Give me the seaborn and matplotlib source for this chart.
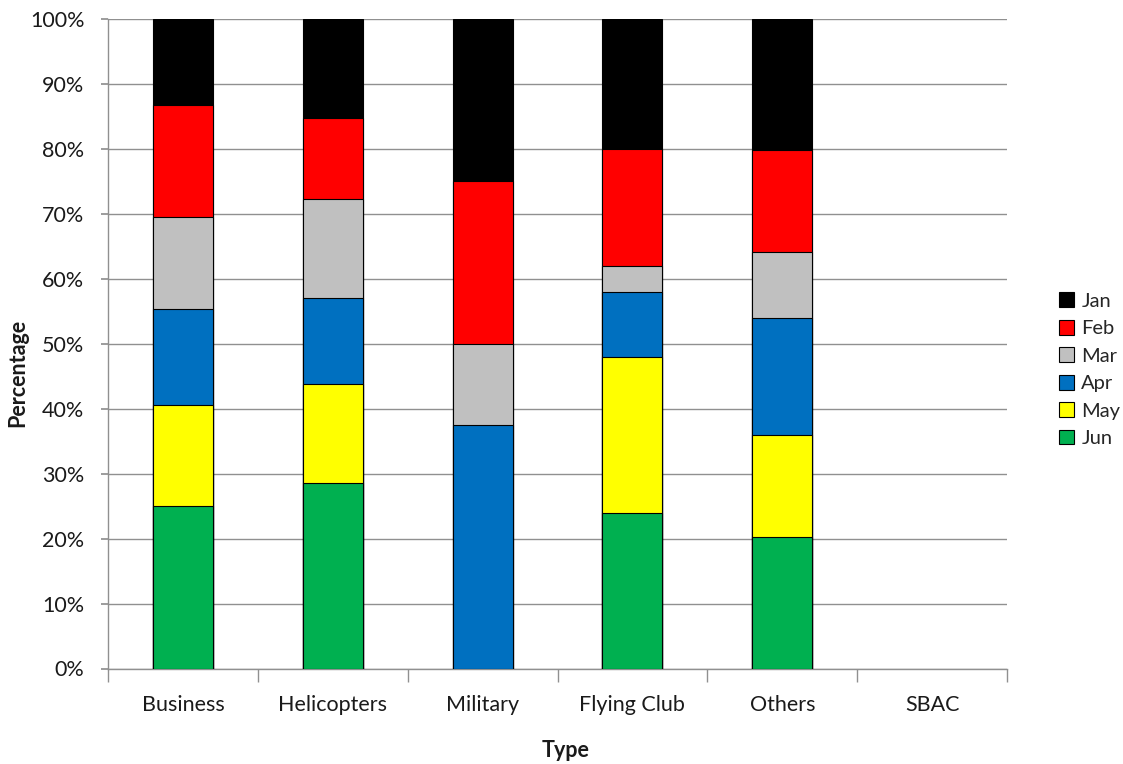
import numpy as np
import pandas as pd
import matplotlib
matplotlib.use("Agg")
import matplotlib.pyplot as plt
from matplotlib.patches import Patch
from matplotlib.ticker import FixedLocator, PercentFormatter
import seaborn as sns

# Share of each aircraft type per month (%)
types = ["Business", "Helicopters", "Military", "Flying Club", "Others", "SBAC"]
months = ["Jan", "Feb", "Mar", "Apr", "May", "Jun"]
jan = [13.3, 15.3, 25.0, 20.0, 20.2, 0.0]
feb = [17.2, 12.4, 25.0, 18.0, 15.7, 0.0]
mar = [14.1, 15.2, 12.5, 4.0, 10.1, 0.0]
apr = [14.8, 13.3, 37.5, 10.0, 18.0, 0.0]
may = [15.6, 15.2, 0.0, 24.0, 15.7, 0.0]
jun = [25.0, 28.6, 0.0, 24.0, 20.3, 0.0]
month_colors = ["#000000", "#FF0000", "#C0C0C0", "#0070C0", "#FFFF00", "#00B050"]

df = pd.DataFrame({"Type": types, "Jan": jan, "Feb": feb, "Mar": mar,
                   "Apr": apr, "May": may, "Jun": jun})

sns.set_theme(style="white")
plt.rcParams["font.family"] = ["Lato", "DejaVu Sans"]

fig = plt.figure(figsize=(11.23, 7.64), dpi=100)
ax = fig.add_axes([0.0962, 0.125, 0.8005, 0.850])

# Stack from the bottom (Jun) upward: draw cumulative totals, tallest first
stack_order = months[::-1]  # Jun at bottom
cum = df[stack_order].cumsum(axis=1)
for m in months:  # Jan (total) first, Jun last so smaller stacks sit on top
    sns.barplot(data=cum.assign(Type=df["Type"]), x="Type", y=m, order=types,
                color=month_colors[months.index(m)], width=0.4,
                edgecolor="black", linewidth=0.8, saturation=1, ax=ax, zorder=3)

# Empty categories get no outline
for p in ax.patches:
    if p.get_height() == 0:
        p.set_linewidth(0)

ax.set_ylim(0, 100)
ax.set_xlim(-0.5, len(types) - 0.5)
ax.yaxis.set_major_locator(FixedLocator(np.arange(0, 101, 10)))
ax.yaxis.set_major_formatter(PercentFormatter(decimals=0))
ax.grid(axis="y", color="#909090", linewidth=1.0, zorder=0)
ax.set_axisbelow(True)

for s in ["top", "right"]:
    ax.spines[s].set_visible(False)
for s in ["left", "bottom"]:
    ax.spines[s].set_color("#909090")
    ax.spines[s].set_linewidth(1.0)

ax.tick_params(axis="y", which="major", left=True, length=5, color="#909090",
               labelsize=15.5, pad=12, labelcolor="#1a1a1a")
ax.tick_params(axis="x", which="major", bottom=False, length=0, labelsize=15.5,
               pad=19, labelcolor="#1a1a1a")
ax.xaxis.set_minor_locator(FixedLocator(np.arange(-0.5, len(types), 1.0)))
ax.tick_params(axis="x", which="minor", bottom=True, length=9, width=1.0,
               color="#909090")

ax.set_xlabel("Type", fontsize=15.5, fontweight="bold", color="#1a1a1a")
ax.set_ylabel("Percentage", fontsize=15.5, fontweight="bold", color="#1a1a1a")
ax.xaxis.set_label_coords(0.509, -0.110)
ax.yaxis.set_label_coords(-0.089, 0.455)

handles = [Patch(facecolor=c, edgecolor="black", linewidth=0.8, label=m)
           for m, c in zip(months, month_colors)]
fig.legend(handles=handles, loc="center left", bbox_to_anchor=(0.936, 0.516),
           frameon=False, fontsize=14.5, handlelength=0.75, handleheight=0.75,
           handletextpad=0.35, labelspacing=0.5, borderaxespad=0)

fig.savefig("out.png", dpi=100)
